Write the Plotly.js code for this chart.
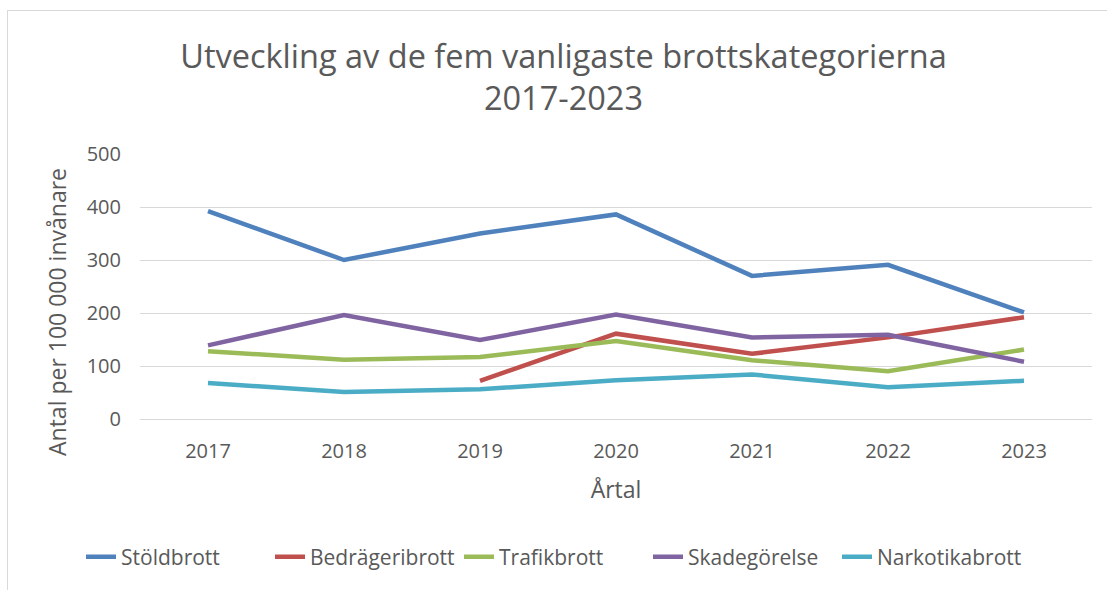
<!DOCTYPE html>
<html>
<head>
<meta charset="utf-8">
<script src="https://cdn.plot.ly/plotly-3.0.1.min.js"></script>
<style>
  body { margin: 0; background: #fff; }
  #plot { position: absolute; left: 0; top: 0; width: 1107px; height: 590px; }
  #frame { position: absolute; left: 7px; top: 10px; width: 1200px; height: 700px;
           border-left: 1px solid #d9d9d9; border-top: 1px solid #d9d9d9; pointer-events: none; }
</style>
</head>
<body>
<div id="plot"></div>
<div id="frame"></div>
<script>
// Years on the x axis
var years = ["2017", "2018", "2019", "2020", "2021", "2022", "2023"];

// Antal per 100 000 invånare
var stold = [392, 300, 350, 386, 270, 291, 201];
var bedrageri = [null, null, 72, 161, 123, 154, 192];
var trafik = [128, 112, 117, 147, 111, 90, 131];
var skadegorelse = [139, 196, 149, 197, 154, 159, 108];
var narkotika = [68, 51, 56, 73, 84, 60, 72];

var names = ["Stöldbrott", "Bedrägeribrott", "Trafikbrott", "Skadegörelse", "Narkotikabrott"];
var series = [stold, bedrageri, trafik, skadegorelse, narkotika];
var colors = ["#4f81bd", "#c0504d", "#9bbb59", "#8064a2", "#4bacc6"];

var data = series.map(function (vals, i) {
  return {
    x: years,
    y: vals,
    name: names[i],
    type: "scatter",
    mode: "lines",
    line: { color: colors[i], width: 4.5 },
    connectgaps: false
  };
});

var grey = "#595959";

var layout = {
  width: 1107,
  height: 590,
  font: { family: "Open Sans, sans-serif", color: grey },
  margin: { l: 140, r: 15, t: 154, b: 171 },
  paper_bgcolor: "#fff",
  plot_bgcolor: "#fff",
  title: {
    text: "Utveckling av de fem vanligaste brottskategorierna<br>2017-2023",
    font: { size: 32.5, color: grey },
    x: 0.509,
    xanchor: "center",
    yref: "container",
    y: 1 - 68 / 590,
    yanchor: "middle"
  },
  xaxis: {
    type: "category",
    range: [-0.5, 6.5],
    showgrid: false,
    showline: true,
    linecolor: "#d9d9d9",
    linewidth: 1,
    ticks: "",
    tickfont: { size: 20, color: grey },
    ticklabelstandoff: 14,
    title: { text: "Årtal", font: { size: 23, color: grey }, standoff: 18 }
  },
  yaxis: {
    range: [0, 500],
    dtick: 100,
    showgrid: true,
    gridcolor: "#d9d9d9",
    gridwidth: 1,
    zeroline: true,
    zerolinecolor: "#d9d9d9",
    showline: false,
    ticks: "",
    tickfont: { size: 20, color: grey },
    ticklabelstandoff: 18
  },
  annotations: [{
    text: "Antal per 100 000 invånare",
    textangle: -90,
    xref: "paper",
    yref: "paper",
    x: (57 - 140) / 952,
    y: (419 - 312) / 265,
    xanchor: "center",
    yanchor: "middle",
    showarrow: false,
    font: { size: 23, color: grey }
  }],
  showlegend: true,
  legend: {
    orientation: "h",
    x: 0.5,
    xanchor: "center",
    xref: "container",
    yref: "container",
    y: 1 - 557 / 590,
    yanchor: "middle",
    font: { size: 21, color: grey },
    itemwidth: 30,
    entrywidth: 144,
    tracegroupgap: 0
  }
};

Plotly.newPlot("plot", data, layout, { displayModeBar: false, staticPlot: true });
</script>
</body>
</html>
